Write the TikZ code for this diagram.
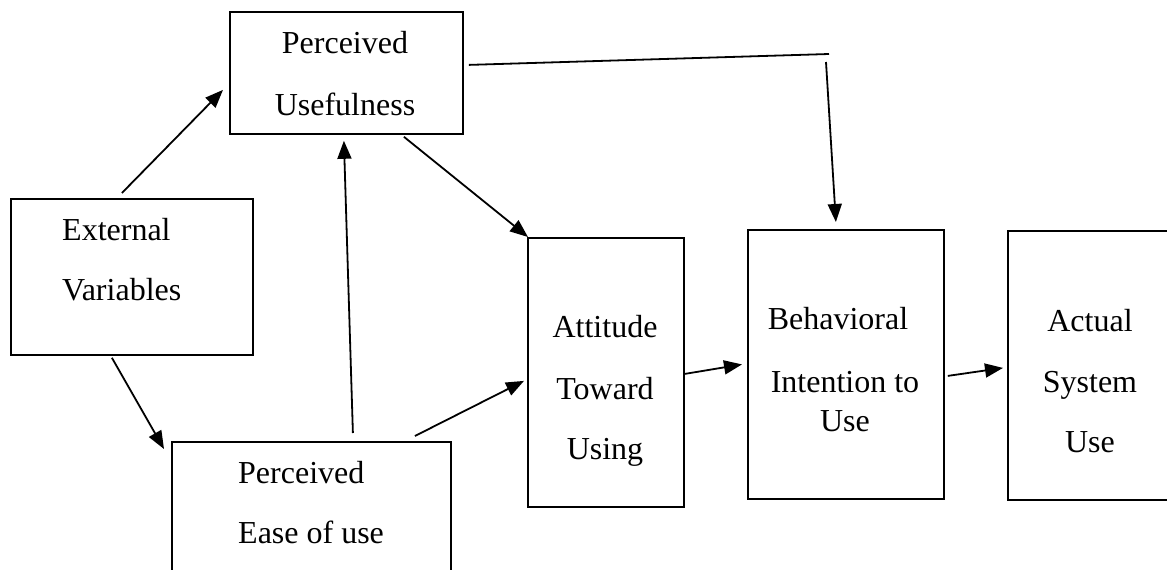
\documentclass[tikz,border=0pt]{standalone}
\usepackage{fontspec}
\setmainfont{Liberation Serif}
\usetikzlibrary{arrows.meta}

\begin{document}
\begin{tikzpicture}[x=1pt,y=-1pt,
        box/.style={draw, rectangle, line width=1.8pt, inner sep=0, anchor=north west},
        txt/.style={inner sep=0, font=\fontsize{32}{60}\selectfont},
        arr/.style={line width=1.8pt, -{Triangle[length=18pt,width=14pt]}}]
                \newcommand{\picw}{1167}
                \newcommand{\pich}{570}

                \useasboundingbox (0,0) rectangle (\picw,\pich);
                \clip (0,0) rectangle (\picw,\pich);

                % Draw boxes
                \node[box, minimum width=233pt, minimum height=122pt] (pu) at (229,11) {};
                \node[box, minimum width=242pt, minimum height=156pt] (ext) at (10,198) {};
                \node[box, minimum width=279pt, minimum height=160pt] (peou) at (171,441) {};
                \node[box, minimum width=156pt, minimum height=269pt] (att) at (527,237) {};
                \node[box, minimum width=196pt, minimum height=269pt] (bi) at (747,229) {};
                \node[box, minimum width=168pt, minimum height=269pt] (use) at (1007,230) {};

                % Draw labels (anchored on the baseline of the last line)
                \node[txt, align=center, anchor=base] (pu-txt) at (345,115) {Perceived\\[2pt]Usefulness};
                \node[txt, align=left, anchor=base west] (ext-txt) at (62,300) {External\\Variables};
                \node[txt, align=left, anchor=base west] (peou-txt) at (238,543) {Perceived\\Ease of use};
                \node[txt, align=center, anchor=base] (att-txt) at (605,459) {Attitude\\[2pt]Toward\\Using};
                \node[txt, align=center, anchor=base] (bi-txt) at (845,431) {Behavioral\hspace*{14pt}\\[3pt]Intention to\\[-21pt]Use};
                \node[txt, align=center, anchor=base] (use-txt) at (1090,452) {Actual\\[1pt]System\\Use};

                % Draw arrows
                \draw[arr] ([xshift=-10pt,yshift=5pt]ext.north) -- ([xshift=-6pt,yshift=-17pt]pu.west);
                \draw[arr] ([xshift=-20pt,yshift=-2pt]ext.south) -- ([xshift=-7pt,yshift=-8pt]peou.north west);
                \draw[arr] ([xshift=41.5pt,yshift=8pt]peou.north) -- ([xshift=-2.5pt,yshift=-6pt]pu.south);
                \draw[arr] ([xshift=57.5pt,yshift=-2pt]pu.south) -- ([xshift=1pt]att.north west);
                \draw[arr] ([xshift=103.5pt,yshift=5pt]peou.north) -- ([xshift=-3pt,yshift=-8.5pt]att.west);
                \coordinate (turn) at (829,54);
                \draw[line width=1.8pt] ([xshift=5pt,yshift=8pt]pu.east) -- (turn);
                \draw[arr] ([xshift=-3pt,yshift=-8pt]turn) -- ([xshift=-10pt,yshift=7pt]bi.north);
                \draw[arr] ([yshift=-1.5pt]att.east) -- ([xshift=-5pt]bi.west);
                \draw[arr] ([xshift=3pt,yshift=-11.5pt]bi.east) -- ([xshift=-4pt,yshift=-2.5pt]use.west);
            \end{tikzpicture}
\end{document}
